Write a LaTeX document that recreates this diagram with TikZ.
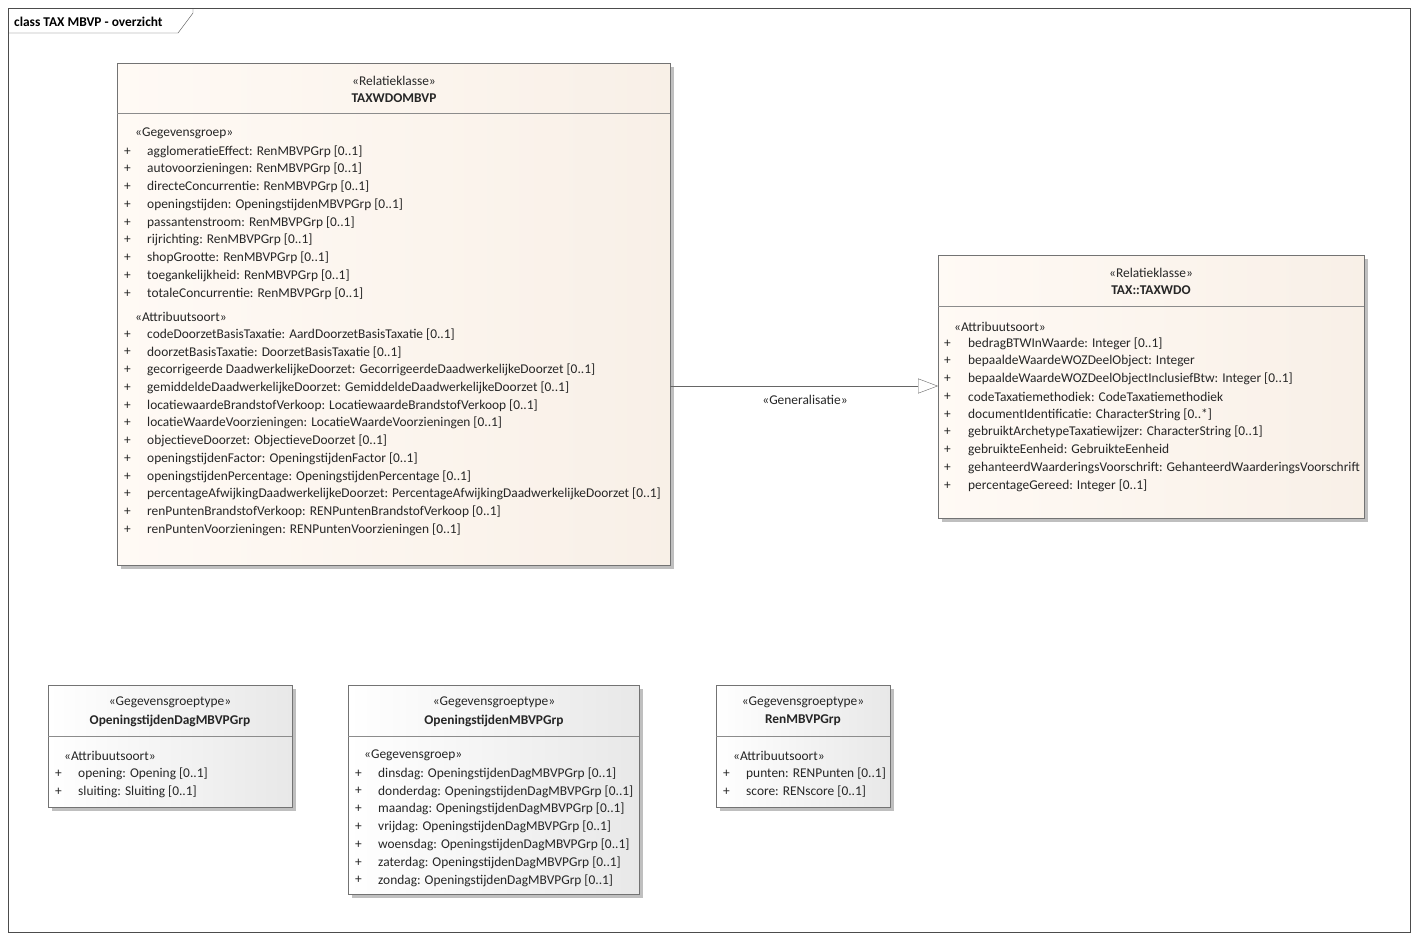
\documentclass[tikz,border=0pt]{standalone}
\usepackage{fontspec}
\setmainfont{Carlito}
\usetikzlibrary{arrows.meta}
\begin{document}
\begin{tikzpicture}[x=1pt,y=-1pt,
  txt/.style={anchor=west,inner sep=0pt,yshift=-1.5pt,font=\fontsize{13.4}{15}\selectfont,text=black!85},
  ctr/.style={anchor=center,inner sep=0pt,yshift=-1.5pt,font=\fontsize{13.4}{15}\selectfont,text=black!85},
  bold/.style={ctr,font=\fontsize{13.4}{15}\selectfont\bfseries},
  shadow/.style={fill=black!25,draw=none},
  beige/.style={draw=black!55,left color=white!60!orange!10,right color=orange!12!brown!12},
  grey/.style={draw=black!55,left color=white,right color=black!9},
  sep/.style={draw=black!45}]
\useasboundingbox (0,0) rectangle (1418,940);
\fill[white] (0,0) rectangle (1418,940);
\draw[black!70] (8,8) rectangle (1410,932);
\draw[black!70] (8,33) -- (178,33) -- (193,13) -- (193,8);
\node[txt,font=\fontsize{13.4}{15}\selectfont\bfseries,text=black] (title) at (14,20) {class TAX MBVP - overzicht};

% Box 1
\fill[shadow] (121,67) rectangle (674,569);
\path[beige] (117,63) rectangle (670,565);
\draw[sep] (117,113) -- (670,113);
\node[ctr] (b1s) at (394,79) {«Relatieklasse»};
\node[bold] (b1n) at (394,97) {TAXWDOMBVP};
\node[txt] (b1g) at (135,132) {«Gegevensgroep»};
\foreach \t [count=\i] in {agglomeratieEffect: RenMBVPGrp [0..1],autovoorzieningen: RenMBVPGrp [0..1],directeConcurrentie: RenMBVPGrp [0..1],openingstijden: OpeningstijdenMBVPGrp [0..1],passantenstroom: RenMBVPGrp [0..1],rijrichting: RenMBVPGrp [0..1],shopGrootte: RenMBVPGrp [0..1],toegankelijkheid: RenMBVPGrp [0..1],totaleConcurrentie: RenMBVPGrp [0..1]}{
  \node[txt] (b1p\i) at (124,{150+(\i-1)*17.75}) {+};
  \node[txt] (b1a\i) at (147,{150+(\i-1)*17.75}) {\t};
}
\node[txt] (b1h) at (135,315) {«Attribuutsoort»};
\foreach \t [count=\i] in {codeDoorzetBasisTaxatie: AardDoorzetBasisTaxatie [0..1],doorzetBasisTaxatie: DoorzetBasisTaxatie [0..1],gecorrigeerde DaadwerkelijkeDoorzet: GecorrigeerdeDaadwerkelijkeDoorzet [0..1],gemiddeldeDaadwerkelijkeDoorzet: GemiddeldeDaadwerkelijkeDoorzet [0..1],locatiewaardeBrandstofVerkoop: LocatiewaardeBrandstofVerkoop [0..1],locatieWaardeVoorzieningen: LocatieWaardeVoorzieningen [0..1],objectieveDoorzet: ObjectieveDoorzet [0..1],openingstijdenFactor: OpeningstijdenFactor [0..1],openingstijdenPercentage: OpeningstijdenPercentage [0..1],percentageAfwijkingDaadwerkelijkeDoorzet: PercentageAfwijkingDaadwerkelijkeDoorzet [0..1],renPuntenBrandstofVerkoop: RENPuntenBrandstofVerkoop [0..1],renPuntenVoorzieningen: RENPuntenVoorzieningen [0..1]}{
  \node[txt] (b1q\i) at (124,{333+(\i-1)*17.75}) {+};
  \node[txt] (b1b\i) at (147,{333+(\i-1)*17.75}) {\t};
}

% Box 2
\fill[shadow] (942,259) rectangle (1368,522);
\path[beige] (938,255) rectangle (1364,518);
\draw[sep] (938,306) -- (1364,306);
\node[ctr] (b2s) at (1151,271) {«Relatieklasse»};
\node[bold] (b2n) at (1151,289) {TAX::TAXWDO};
\node[txt] (b2h) at (954,325) {«Attribuutsoort»};
\foreach \t [count=\i] in {bedragBTWInWaarde: Integer [0..1],bepaaldeWaardeWOZDeelObject: Integer,bepaaldeWaardeWOZDeelObjectInclusiefBtw: Integer [0..1],codeTaxatiemethodiek: CodeTaxatiemethodiek,documentIdentificatie: CharacterString [0..*],gebruiktArchetypeTaxatiewijzer: CharacterString [0..1],gebruikteEenheid: GebruikteEenheid,gehanteerdWaarderingsVoorschrift: GehanteerdWaarderingsVoorschrift,percentageGereed: Integer [0..1]}{
  \node[txt] (b2p\i) at (944,{342+(\i-1)*17.75}) {+};
  \node[txt] (b2a\i) at (968,{342+(\i-1)*17.75}) {\t};
}
\coordinate (g1) at (670,386);
\coordinate (g2) at (938,386);
\draw[black!60,-{Triangle[open,length=20pt,width=15pt]}] (g1) -- (g2);
\node[ctr] (gl) at (805,398) {«Generalisatie»};

% Box 3
\fill[shadow] (52,689) rectangle (296,811);
\path[grey] (48,685) rectangle (292,807);
\draw[sep] (48,736) -- (292,736);
\node[ctr] (b3s) at (170,701) {«Gegevensgroeptype»};
\node[bold] (b3n) at (170,719) {OpeningstijdenDagMBVPGrp};
\node[txt] (b3h) at (64,754) {«Attribuutsoort»};
\foreach \t [count=\i] in {opening: Opening [0..1],sluiting: Sluiting [0..1]}{
  \node[txt] (b3p\i) at (55,{772+(\i-1)*17.9}) {+};
  \node[txt] (b3a\i) at (78,{772+(\i-1)*17.9}) {\t};
}

% Box 4
\fill[shadow] (352,689) rectangle (643,898);
\path[grey] (348,685) rectangle (639,894);
\draw[sep] (348,736) -- (639,736);
\node[ctr] (b4s) at (494,701) {«Gegevensgroeptype»};
\node[bold] (b4n) at (494,719) {OpeningstijdenMBVPGrp};
\node[txt] (b4h) at (364,754) {«Gegevensgroep»};
\foreach \t [count=\i] in {dinsdag: OpeningstijdenDagMBVPGrp [0..1],donderdag: OpeningstijdenDagMBVPGrp [0..1],maandag: OpeningstijdenDagMBVPGrp [0..1],vrijdag: OpeningstijdenDagMBVPGrp [0..1],woensdag: OpeningstijdenDagMBVPGrp [0..1],zaterdag: OpeningstijdenDagMBVPGrp [0..1],zondag: OpeningstijdenDagMBVPGrp [0..1]}{
  \node[txt] (b4p\i) at (355,{772+(\i-1)*17.8}) {+};
  \node[txt] (b4a\i) at (378,{772+(\i-1)*17.8}) {\t};
}

% Box 5
\fill[shadow] (720,689) rectangle (894,811);
\path[grey] (716,685) rectangle (890,807);
\draw[sep] (716,736) -- (890,736);
\node[ctr] (b5s) at (803,701) {«Gegevensgroeptype»};
\node[bold] (b5n) at (803,719) {RenMBVPGrp};
\node[txt] (b5h) at (733,754) {«Attribuutsoort»};
\foreach \t [count=\i] in {punten: RENPunten [0..1],score: RENscore [0..1]}{
  \node[txt] (b5p\i) at (723,{772+(\i-1)*17.9}) {+};
  \node[txt] (b5a\i) at (746,{772+(\i-1)*17.9}) {\t};
}
\end{tikzpicture}
\end{document}
